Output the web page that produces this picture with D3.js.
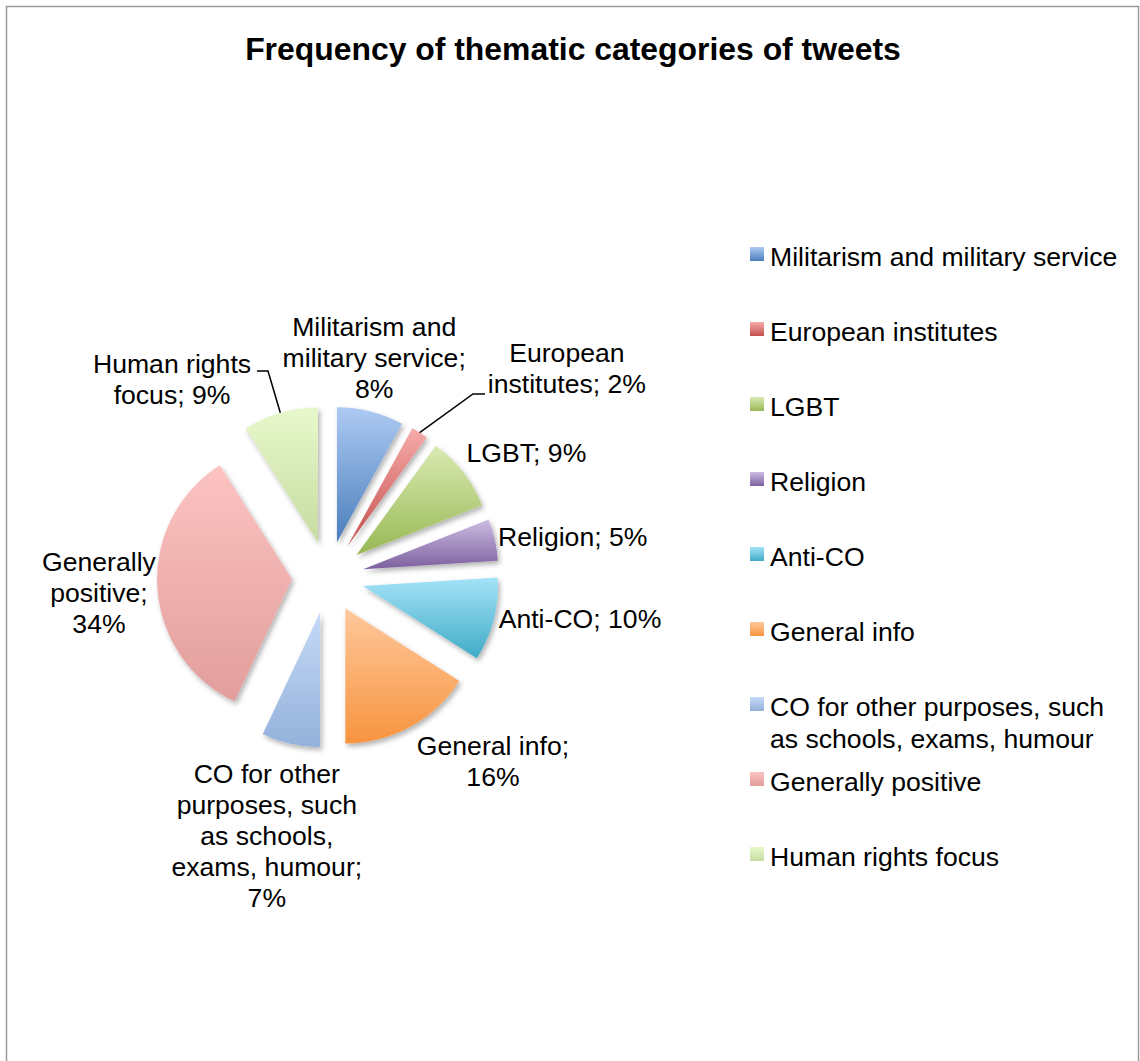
<!DOCTYPE html>
<html>
<head>
<meta charset="utf-8">
<script src="https://cdn.jsdelivr.net/npm/d3@7"></script>
<style>
  html, body { margin: 0; padding: 0; background: #fff; }
  svg text { font-family: "Liberation Sans", Arial, sans-serif; fill: #000; }
</style>
</head>
<body>
<div id="wrapper"></div>
<script>
// DATA
const categories = [
  `Militarism and military service`,
  `European institutes`,
  `LGBT`,
  `Religion`,
  `Anti-CO`,
  `General info`,
  `CO for other purposes, such as schools, exams, humour`,
  `Generally positive`,
  `Human rights focus`
];
const shares = [8, 2, 9, 5, 10, 16, 7, 34, 9];
const labelLines = [
  [`Militarism and`, `military service;`, `8%`],
  [`European`, `institutes; 2%`],
  [`LGBT; 9%`],
  [`Religion; 5%`],
  [`Anti-CO; 10%`],
  [`General info;`, `16%`],
  [`CO for other`, `purposes, such`, `as schools,`, `exams, humour;`, `7%`],
  [`Generally`, `positive;`, `34%`],
  [`Human rights`, `focus; 9%`]
];
const legendLines = [
  [`Militarism and military service`],
  [`European institutes`],
  [`LGBT`],
  [`Religion`],
  [`Anti-CO`],
  [`General info`],
  [`CO for other purposes, such`, `as schools, exams, humour`],
  [`Generally positive`],
  [`Human rights focus`]
];
const TITLE = `Frequency of thematic categories of tweets`;

// STYLES (top light -> bottom dark)
const gradientStops = [
  [`#aecaf3`, `#4a7ebb`],
  [`#f6abaa`, `#c4504d`],
  [`#d9eab2`, `#98b954`],
  [`#cdbde3`, `#7d609f`],
  [`#a3e3f8`, `#40abc6`],
  [`#ffc89b`, `#f79440`],
  [`#c6daf8`, `#93b1da`],
  [`#fcc3c2`, `#e19e9c`],
  [`#e8f8cb`, `#c6dca2`]
];

// LAYOUT
const W = 1140;
const H = 1061;
const pieCenter = { x: 328, y: 577 };
const radius = 135;
const explode = 36;
const lineHeight = 31;
const fontSize = `26.6px`;
// label block centre, polar around the pie centre: [angle deg clockwise from top, distance]
const labelPolar = [
  [11.9, 224], [48.9, 317], [58, 234], [80.7, 248], [99.5, 255.5],
  [138.2, 247.5], [193.3, 266], [266, 229.6], [321.7, 251.7]
];
// leader line elbows/ends relative to pie centre (only labels that need one)
const leaders = {
  1: [[145, -183], [157, -183]],
  8: [[-60, -206], [-71, -206]]
};
const legend = { x: 750, y: 257, step: 75, box: 14, textX: 770, lineGap: 32 };

const svg = d3.select(`#wrapper`)
  .append(`svg`)
  .attr(`width`, W)
  .attr(`height`, H);

const defs = svg.append(`defs`);

gradientStops.forEach((stops, i) => {
  const g = defs.append(`linearGradient`)
    .attr(`id`, `grad-${i}`)
    .attr(`x1`, 0).attr(`y1`, 0)
    .attr(`x2`, 0).attr(`y2`, 1);
  g.append(`stop`).attr(`offset`, `0%`).attr(`stop-color`, stops[0]);
  g.append(`stop`).attr(`offset`, `100%`).attr(`stop-color`, stops[1]);
});

defs.append(`filter`)
  .attr(`id`, `shadow`)
  .attr(`x`, `-20%`).attr(`y`, `-20%`)
  .attr(`width`, `140%`).attr(`height`, `140%`)
  .append(`feDropShadow`)
  .attr(`dx`, 2)
  .attr(`dy`, 3)
  .attr(`stdDeviation`, 2.5)
  .attr(`flood-color`, `#000`)
  .attr(`flood-opacity`, 0.3);

// chart frame
svg.append(`rect`)
  .attr(`x`, 6.5)
  .attr(`y`, 6.5)
  .attr(`width`, 1132)
  .attr(`height`, H + 20)
  .attr(`fill`, `none`)
  .attr(`stroke`, `#9a9a9a`)
  .attr(`stroke-width`, 1.5);

svg.append(`text`)
  .attr(`x`, 573)
  .attr(`y`, 60)
  .attr(`text-anchor`, `middle`)
  .style(`font-size`, `31.9px`)
  .style(`font-weight`, `bold`)
  .text(TITLE);

// PIE
const pie = d3.pie().sort(null).value(d => d);
const arcs = pie(shares);
const arc = d3.arc().innerRadius(0).outerRadius(radius);

const polar = (angleRad, dist) => [Math.sin(angleRad) * dist, -Math.cos(angleRad) * dist];
const midAngle = d => (d.startAngle + d.endAngle) / 2;

const pieG = svg.append(`g`)
  .attr(`transform`, `translate(${pieCenter.x}, ${pieCenter.y})`);

pieG.selectAll(`.slice`)
  .data(arcs)
  .enter()
  .append(`path`)
  .attr(`class`, `slice`)
  .attr(`transform`, d => {
    const [dx, dy] = polar(midAngle(d), explode);
    return `translate(${dx}, ${dy})`;
  })
  .attr(`d`, arc)
  .attr(`fill`, (d, i) => `url(#grad-${i})`)
  .attr(`filter`, `url(#shadow)`);

// leader lines
Object.keys(leaders).forEach(k => {
  const d = arcs[+k];
  const [ex, ey] = polar(midAngle(d), explode);
  const [ox, oy] = polar(midAngle(d), radius);
  const pts = [[ex + ox, ey + oy], ...leaders[k]];
  pieG.append(`path`)
    .attr(`d`, d3.line()(pts))
    .attr(`fill`, `none`)
    .attr(`stroke`, `#000`)
    .attr(`stroke-width`, 1.5);
});

// data labels
labelLines.forEach((lines, i) => {
  const [deg, dist] = labelPolar[i];
  const [cx, cy] = polar(deg * Math.PI / 180, dist);
  const firstBaseline = cy - (lines.length - 1) * lineHeight / 2 + 9;
  const t = pieG.append(`text`)
    .attr(`text-anchor`, `middle`)
    .style(`font-size`, fontSize);
  lines.forEach((line, j) => {
    t.append(`tspan`)
      .attr(`x`, cx)
      .attr(`y`, firstBaseline + j * lineHeight)
      .text(line);
  });
});

// LEGEND
const legendG = svg.append(`g`);
legendLines.forEach((lines, i) => {
  const y = legend.y + i * legend.step;
  legendG.append(`rect`)
    .attr(`x`, legend.x)
    .attr(`y`, y - 10)
    .attr(`width`, legend.box)
    .attr(`height`, legend.box)
    .attr(`fill`, `url(#grad-${i})`);
  const t = legendG.append(`text`).style(`font-size`, fontSize);
  lines.forEach((line, j) => {
    t.append(`tspan`)
      .attr(`x`, legend.textX)
      .attr(`y`, y + 9 + j * legend.lineGap)
      .text(line);
  });
});
</script>
</body>
</html>
